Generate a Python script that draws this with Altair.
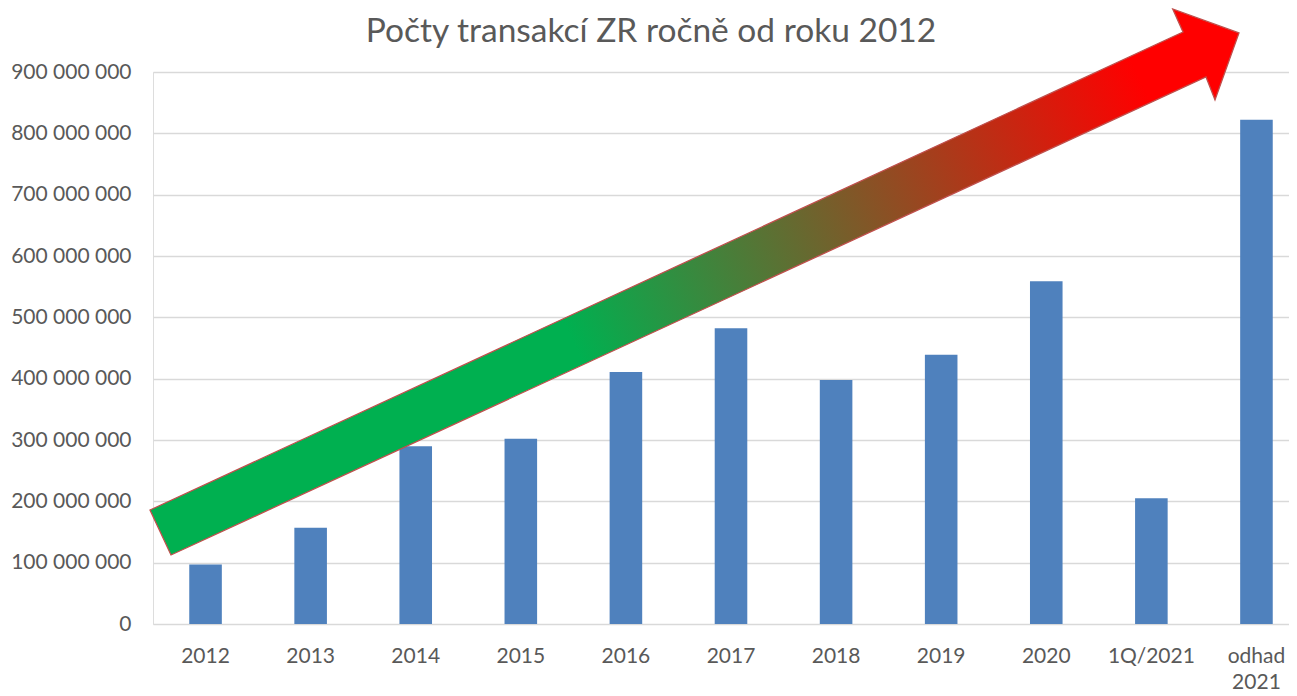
import altair as alt
import pandas as pd

# ---- data ----
categories = ["2012", "2013", "2014", "2015", "2016", "2017", "2018", "2019",
              "2020", "1Q/2021", "odhad 2021"]
transactions = [97e6, 157e6, 290e6, 302e6, 411e6, 482e6, 398e6, 439e6,
                559e6, 205e6, 822e6]
y_ticks = [0, 100e6, 200e6, 300e6, 400e6, 500e6, 600e6, 700e6, 800e6, 900e6]
title_text = "Počty transakcí ZR ročně od roku 2012"

# decorative arrow outline (unit path, scaled by the symbol size)
arrow_pts = [(-5.445, 2.28), (4.885, -2.50), (4.782, -2.73), (5.445, -2.49),
             (5.205, -1.82), (5.115, -2.05), (-5.235, 2.73)]
arrow_path = "M" + " L".join(f"{x},{y}" for x, y in arrow_pts) + " Z"

df = pd.DataFrame({"kategorie": categories, "pocet": transactions})

FONT = "Lato"
GREY = "#595959"

bars = alt.Chart(df).mark_bar(color="#4F81BD").encode(
    x=alt.X("kategorie:N", sort=categories,
            scale=alt.Scale(range=[0, 1156], paddingInner=0.69, paddingOuter=0.345),
            axis=alt.Axis(title=None, labelAngle=0, domain=False, ticks=False,
                          labelFont=FONT, labelFontSize=21, labelColor=GREY,
                          labelPadding=21, labelLineHeight=26,
                          labelExpr="datum.value == 'odhad 2021' ? ['odhad', '2021'] : datum.value")),
    y=alt.Y("pocet:Q", scale=alt.Scale(domain=[0, 900e6], nice=False),
            axis=alt.Axis(title=None, values=y_ticks, domain=False, ticks=False,
                          grid=True, gridColor="#D9D9D9", gridWidth=1.4,
                          labelFont=FONT, labelFontSize=21, labelColor=GREY,
                          labelPadding=22,
                          labelExpr="replace(replace(format(datum.value, ',d'), ',', ' '), ',', ' ')")),
)

arrow_df = pd.DataFrame({"a": [1]})
arrow = alt.Chart(arrow_df).mark_point(
    shape=arrow_path,
    filled=True,
    fill=alt.Gradient(
        gradient="linear",
        x1=0, y1=0.616, x2=1, y2=0.384,
        stops=[alt.GradientStop(offset=0.0, color="#00B050"),
               alt.GradientStop(offset=0.37, color="#00B050"),
               alt.GradientStop(offset=0.97, color="#FF0000"),
               alt.GradientStop(offset=1.0, color="#FF0000")],
    ),
    fillOpacity=1,
    opacity=1,
    stroke="#C0504D",
    strokeWidth=1.3,
).encode(
    x=alt.value(541.5),
    y=alt.value(210),
    size=alt.value(40000),
)

title_df = pd.DataFrame({"t": [title_text]})
title = alt.Chart(title_df).mark_text(
    font=FONT, fontSize=33.5, color=GREY, align="center", baseline="alphabetic",
).encode(
    text="t:N",
    x=alt.value(498),
    y=alt.value(-30),
)

chart = alt.layer(bars, arrow, title).properties(
    width=1136,
    height=552,
    autosize=alt.AutoSizeParams(type="none"),
    padding={"left": 145, "top": 64, "right": 0, "bottom": 70},
).configure_view(stroke=None).configure(background="white")

chart.save("out.html", embed_options={"renderer": "svg", "actions": False})
